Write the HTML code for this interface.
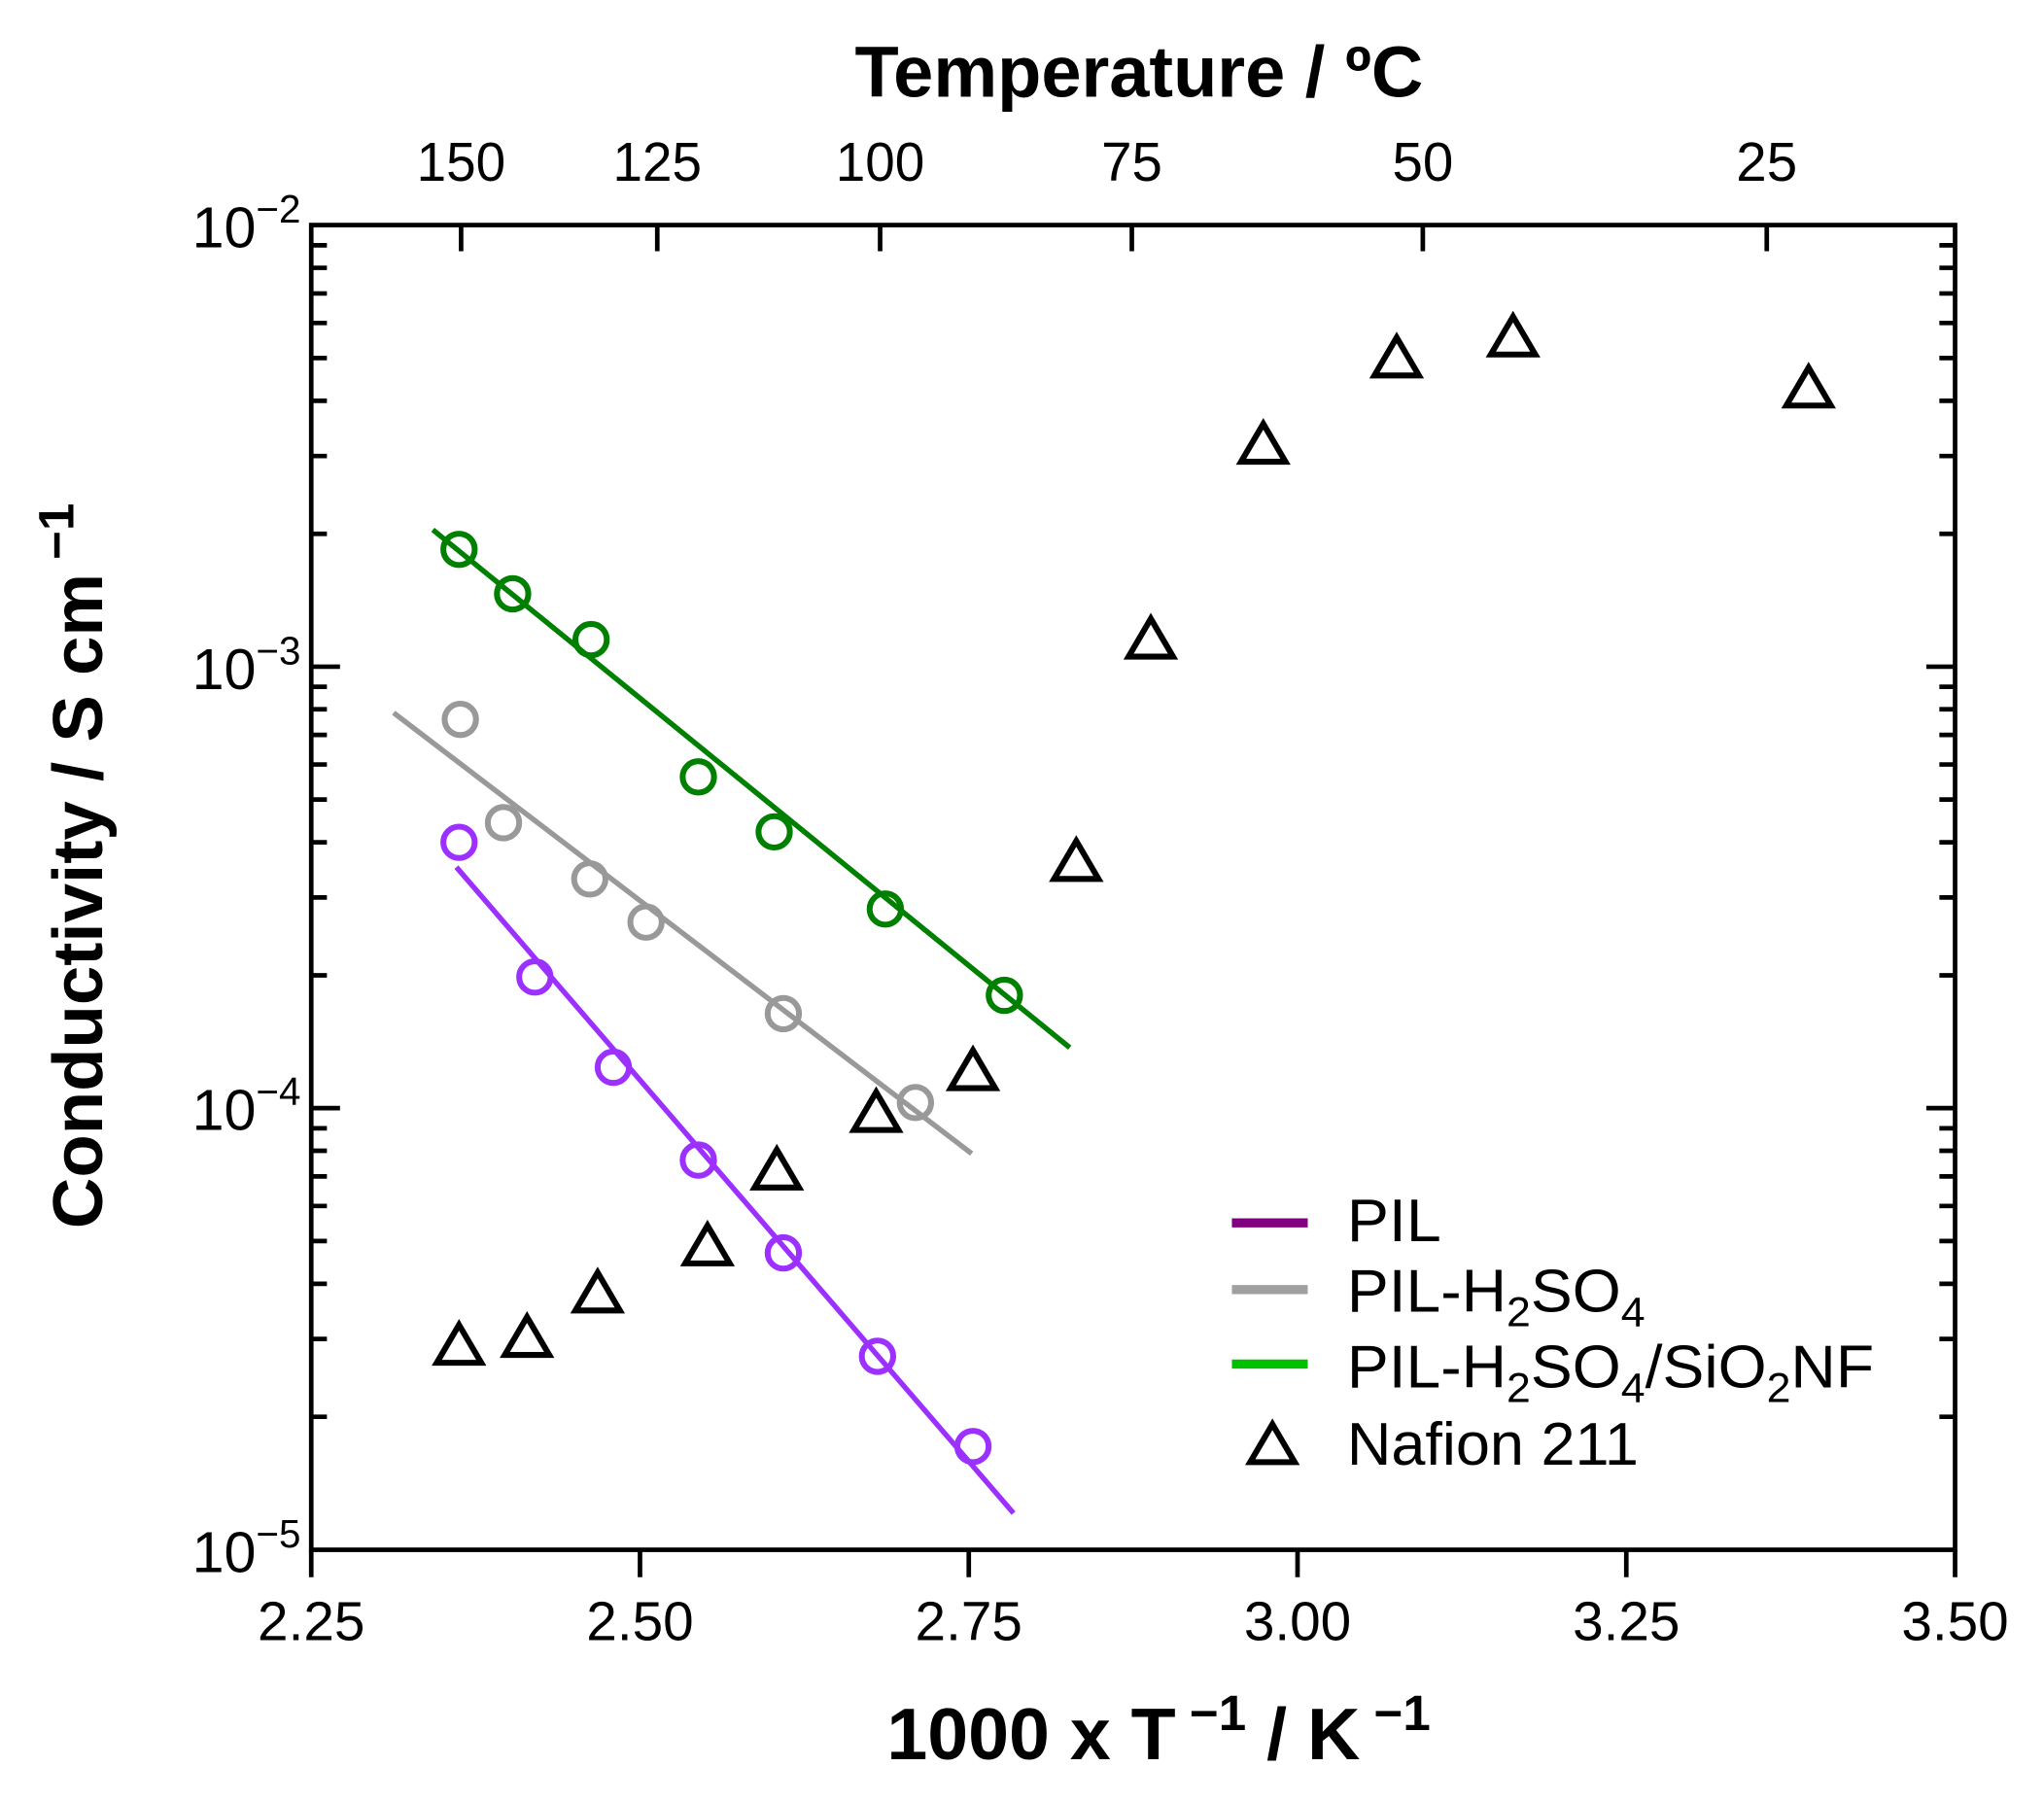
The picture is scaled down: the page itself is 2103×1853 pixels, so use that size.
<!DOCTYPE html>
<html><head><meta charset="utf-8"><style>html,body{margin:0;padding:0;background:#fff}svg{display:block}</style></head>
<body>
<svg width="2103" height="1853" viewBox="0 0 1563 1377" xmlns="http://www.w3.org/2000/svg" font-family="Liberation Sans, Arial, sans-serif">
<rect width="1563" height="1377" fill="#fff"/>
<g stroke="#000" stroke-width="3.5" fill="none">
<rect x="238" y="172" width="1257" height="1013"/>
<path d="M238 1185v21M489.4 1185v21M740.8 1185v21M992.2 1185v21M1243.6 1185v21M1495 1185v21"/>
<path d="M352.6 172v20M502.6 172v20M673 172v20M865.5 172v20M1088 172v20M1351 172v20"/>
<path d="M238 509.7h22M238 847.3h22M1495 509.7h-22M1495 847.3h-22"/>
<path d="M238 408.1h12M238 348.6h12M238 306.4h12M238 273.7h12M238 246.9h12M238 224.3h12M238 204.7h12M238 187.5h12
M238 745.7h12M238 686.2h12M238 644h12M238 611.3h12M238 584.5h12M238 561.9h12M238 542.3h12M238 525.1h12
M238 1083.3h12M238 1023.8h12M238 981.6h12M238 948.9h12M238 922.1h12M238 899.5h12M238 879.9h12M238 862.7h12
M1495 408.1h-12M1495 348.6h-12M1495 306.4h-12M1495 273.7h-12M1495 246.9h-12M1495 224.3h-12M1495 204.7h-12M1495 187.5h-12
M1495 745.7h-12M1495 686.2h-12M1495 644h-12M1495 611.3h-12M1495 584.5h-12M1495 561.9h-12M1495 542.3h-12M1495 525.1h-12
M1495 1083.3h-12M1495 1023.8h-12M1495 981.6h-12M1495 948.9h-12M1495 922.1h-12M1495 899.5h-12M1495 879.9h-12M1495 862.7h-12"/>
</g>
<g font-size="42" text-anchor="middle" fill="#000">
<text x="238" y="1254" textLength="82" lengthAdjust="spacingAndGlyphs">2.25</text><text x="489.4" y="1254" textLength="82" lengthAdjust="spacingAndGlyphs">2.50</text><text x="740.8" y="1254" textLength="82" lengthAdjust="spacingAndGlyphs">2.75</text>
<text x="992.2" y="1254" textLength="82" lengthAdjust="spacingAndGlyphs">3.00</text><text x="1243.6" y="1254" textLength="82" lengthAdjust="spacingAndGlyphs">3.25</text><text x="1495" y="1254" textLength="82" lengthAdjust="spacingAndGlyphs">3.50</text>
<text x="352.6" y="138" textLength="68" lengthAdjust="spacingAndGlyphs">150</text><text x="502.6" y="138" textLength="68" lengthAdjust="spacingAndGlyphs">125</text><text x="673" y="138" textLength="68" lengthAdjust="spacingAndGlyphs">100</text>
<text x="865.5" y="138">75</text><text x="1088" y="138">50</text><text x="1351" y="138">25</text>
</g>
<g font-size="44" text-anchor="end" fill="#000">
<text x="230" y="189">10<tspan font-size="30" dy="-19">−2</tspan></text>
<text x="230" y="527">10<tspan font-size="30" dy="-19">−3</tspan></text>
<text x="230" y="864">10<tspan font-size="30" dy="-19">−4</tspan></text>
<text x="230" y="1202">10<tspan font-size="30" dy="-19">−5</tspan></text>
</g>
<text x="871" y="74" font-size="55" font-weight="bold" text-anchor="middle">Temperature / ºC</text>
<text x="886" y="1345" font-size="56" font-weight="bold" text-anchor="middle">1000 x T<tspan font-size="38" dy="-22"> −1</tspan><tspan dy="22"> / K</tspan><tspan font-size="38" dy="-22"> −1</tspan></text>
<text transform="translate(78,662) rotate(-90)" font-size="54" font-weight="bold" text-anchor="middle">Conductivity / S cm<tspan font-size="38" dy="-22"> −1</tspan></text>
<g stroke-width="4" fill="none">
<line x1="331" y1="405" x2="818" y2="801" stroke="#008000"/>
<line x1="301" y1="545" x2="743" y2="882" stroke="#999"/>
<line x1="349" y1="663" x2="775" y2="1157" stroke="#9b30ff"/>
</g>
<g fill="none" stroke-width="4.5">
<g stroke="#008000">
<circle cx="351" cy="420" r="12"/><circle cx="392" cy="454" r="12"/><circle cx="452" cy="489" r="12"/><circle cx="534" cy="594" r="12"/><circle cx="592" cy="636" r="12"/><circle cx="677" cy="695" r="12"/><circle cx="768" cy="761" r="12"/>
</g>
<g stroke="#999">
<circle cx="352" cy="550" r="12"/><circle cx="385" cy="629" r="12"/><circle cx="451" cy="672" r="12"/><circle cx="494" cy="705" r="12"/><circle cx="599" cy="775" r="12"/><circle cx="700" cy="843" r="12"/>
</g>
<g stroke="#9b30ff">
<circle cx="351" cy="644" r="12"/><circle cx="409" cy="747" r="12"/><circle cx="469" cy="816" r="12"/><circle cx="534" cy="887" r="12"/><circle cx="599" cy="958" r="12"/><circle cx="671" cy="1037" r="12"/><circle cx="744" cy="1106" r="12"/>
</g>
</g>
<g fill="none" stroke="#000" stroke-width="4.5">
<path d="M0 -16 L17 13 L-17 13 Z" transform="translate(351,1029)"/>
<path d="M0 -16 L17 13 L-17 13 Z" transform="translate(403,1023)"/>
<path d="M0 -16 L17 13 L-17 13 Z" transform="translate(457,989)"/>
<path d="M0 -16 L17 13 L-17 13 Z" transform="translate(541,953)"/>
<path d="M0 -16 L17 13 L-17 13 Z" transform="translate(594,895)"/>
<path d="M0 -16 L17 13 L-17 13 Z" transform="translate(670,851)"/>
<path d="M0 -16 L17 13 L-17 13 Z" transform="translate(744,819)"/>
<path d="M0 -16 L17 13 L-17 13 Z" transform="translate(823,659)"/>
<path d="M0 -16 L17 13 L-17 13 Z" transform="translate(880,489)"/>
<path d="M0 -16 L17 13 L-17 13 Z" transform="translate(966,340)"/>
<path d="M0 -16 L17 13 L-17 13 Z" transform="translate(1068,274)"/>
<path d="M0 -16 L17 13 L-17 13 Z" transform="translate(1157,258)"/>
<path d="M0 -16 L17 13 L-17 13 Z" transform="translate(1383,297)"/>
<path d="M0 -16 L17 13 L-17 13 Z" transform="translate(973,1105)"/>
</g>
<g stroke-width="7">
<line x1="942" y1="935" x2="1000" y2="935" stroke="#800080"/>
<line x1="942" y1="986" x2="1000" y2="986" stroke="#a0a0a0"/>
<line x1="942" y1="1043" x2="1000" y2="1043" stroke="#00c000"/>
</g>
<g font-size="46" fill="#000">
<text x="1030" y="949" textLength="72" lengthAdjust="spacingAndGlyphs">PIL</text>
<text x="1030" y="1003" textLength="228" lengthAdjust="spacingAndGlyphs">PIL-H<tspan font-size="32" dy="11">2</tspan><tspan dy="-11">SO</tspan><tspan font-size="32" dy="11">4</tspan></text>
<text x="1030" y="1061" textLength="403" lengthAdjust="spacingAndGlyphs">PIL-H<tspan font-size="32" dy="11">2</tspan><tspan dy="-11">SO</tspan><tspan font-size="32" dy="11">4</tspan><tspan dy="-11">/SiO</tspan><tspan font-size="32" dy="11">2</tspan><tspan dy="-11">NF</tspan></text>
<text x="1030" y="1120" textLength="223" lengthAdjust="spacingAndGlyphs">Nafion 211</text>
</g>
</svg>
</body></html>
